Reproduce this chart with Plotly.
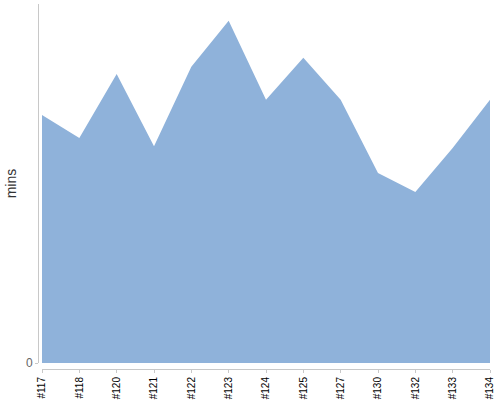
import plotly.graph_objects as go

categories = ["#117", "#118", "#120", "#121", "#122", "#123", "#124",
              "#125", "#127", "#130", "#132", "#133", "#134"]
mins = [69.1, 62.7, 80.5, 60.4, 82.5, 95.3, 73.3, 85.0, 73.3, 52.9, 47.6, 59.9, 73.3]
y_max = 100

fig = go.Figure()
fig.add_trace(go.Scatter(
    x=categories, y=mins, mode="lines", fill="tozeroy",
    line=dict(color="rgba(143,178,218,1)", width=0),
    fillcolor="rgb(143,178,218)", hoverinfo="skip", showlegend=False,
))

fig.update_layout(
    width=500, height=400,
    margin=dict(l=0, r=0, t=0, b=0, autoexpand=False),
    paper_bgcolor="white", plot_bgcolor="white",
    font=dict(family="Liberation Sans, Arial, sans-serif"),
    xaxis=dict(
        domain=[42/500, 490/500], anchor="free", position=1 - 369/400,
        type="category", range=[0, len(categories) - 1],
        showgrid=False, zeroline=False, automargin=False,
        showline=True, linecolor="#c8c8c8", linewidth=1,
        ticks="outside", ticklen=3, tickcolor="#c8c8c8",
        tickangle=-90, tickfont=dict(size=10, color="#000"),
    ),
    yaxis=dict(
        domain=[1 - 363/400, 1 - 4/400], anchor="free", position=38/500,
        range=[0, y_max], showgrid=False, zeroline=False, automargin=False,
        showline=True, linecolor="#c8c8c8", linewidth=1,
        ticks="outside", ticklen=3, tickcolor="#c8c8c8",
        tickvals=[0], tickfont=dict(size=12, color="#666"),
        title=dict(text="mins", font=dict(size=14, color="#333"), standoff=5),
    ),
)

fig.write_html(
    "out.html",
    config={"displayModeBar": False, "staticPlot": True},
    post_script="document.body.style.margin='0';document.body.style.overflow='hidden';",
)
